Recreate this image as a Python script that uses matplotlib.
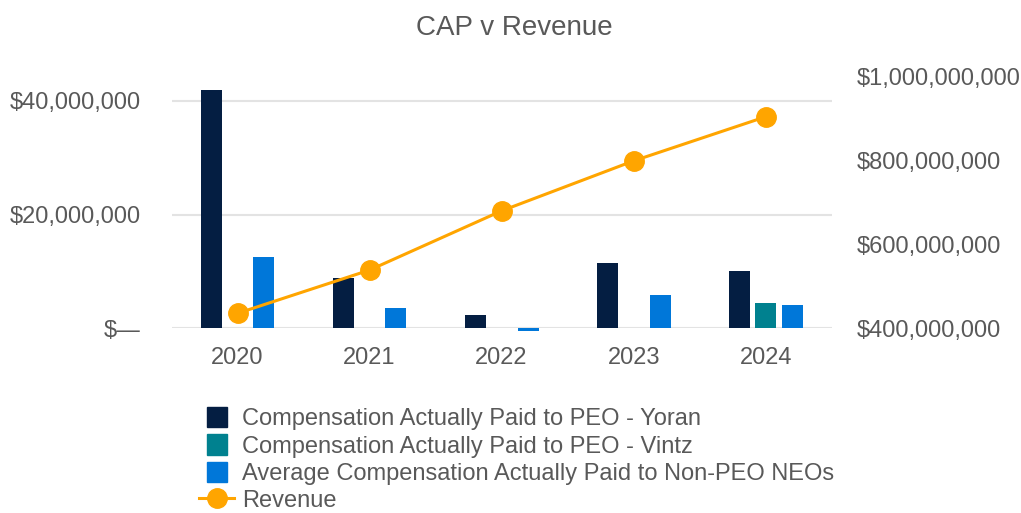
import matplotlib.pyplot as plt
import matplotlib.patches as mpatches
import numpy as np
from matplotlib.legend_handler import HandlerPatch
from matplotlib.lines import Line2D
from matplotlib.ticker import FuncFormatter

plt.rcParams['font.family'] = ['Liberation Sans', 'DejaVu Sans']

years = ['2020', '2021', '2022', '2023', '2024']
cap_yoran = [41.96e6, 8.9e6, 2.36e6, 11.4e6, 10.06e6]
cap_vintz = [0, 0, 0, 0, 4.48e6]
cap_non_peo = [12.5e6, 3.6e6, -0.5e6, 5.8e6, 4.13e6]
revenue = [435e6, 538e6, 679e6, 798e6, 903e6]

labels = ['Compensation Actually Paid to PEO - Yoran',
          'Compensation Actually Paid to PEO - Vintz',
          'Average Compensation Actually Paid to Non-PEO NEOs',
          'Revenue']
colors = ['#041E42', '#00818F', '#0077D9', '#FFA500']
text_color = '#595959'


def money(v, pos):
    if abs(v) < 1:
        return '$—'
    return f'${v:,.0f}'


def square(legend, orig_handle, xdescent, ydescent, width, height, fontsize):
    # square swatch centred in the (wider) handle box
    return mpatches.Rectangle((-xdescent + (width - height) / 2, -ydescent), height, height)


fig = plt.figure(figsize=(10.21, 5.13), dpi=100)
ax = fig.add_axes([0.168, 0.3606, 0.6466, 0.4912])
ax2 = ax.twinx()

x = np.arange(len(years))
w = 0.159
off = 0.2
ax.bar(x - off, cap_yoran, w, color=colors[0], clip_on=False, zorder=2)
ax.bar(x, cap_vintz, w, color=colors[1], clip_on=False, zorder=2)
ax.bar(x + off, cap_non_peo, w, color=colors[2], clip_on=False, zorder=2)
ax2.plot(x, revenue, color=colors[3], lw=2.2, marker='o', ms=14, zorder=3)

ax.set_xlim(-0.5, 4.5)
ax.set_ylim(0, 44.4e6)
ax2.set_ylim(400e6, 1e9)
ax.set_yticks([0, 20e6, 40e6])
ax2.set_yticks([400e6, 600e6, 800e6, 1e9])
ax.yaxis.set_major_formatter(FuncFormatter(money))
ax2.yaxis.set_major_formatter(FuncFormatter(money))
ax.set_xticks(x)
ax.set_xticklabels(years)
ax.grid(axis='y', color='#E3E3E3', lw=1.5, zorder=0)
ax.set_axisbelow(True)
for a in (ax, ax2):
    for s in a.spines.values():
        s.set_visible(False)
    a.tick_params(length=0, labelsize=17, labelcolor=text_color)
ax.tick_params(axis='y', pad=22)
ax.tick_params(axis='x', pad=14)
ax2.tick_params(axis='y', pad=18)

fig.text(0.504, 0.945, 'CAP v Revenue', ha='center', va='center', fontsize=20, color=text_color)

handles = [mpatches.Patch(color=colors[0]), mpatches.Patch(color=colors[1]),
           mpatches.Patch(color=colors[2]),
           Line2D([], [], color=colors[3], lw=2.2, marker='o', ms=14)]
fig.legend(handles, labels, loc='upper left', bbox_to_anchor=(0.195, 0.206), frameon=False,
           fontsize=17, labelcolor=text_color, handlelength=1.48, handleheight=0.93,
           handletextpad=0.34, labelspacing=0.17, borderaxespad=0, borderpad=0,
           handler_map={mpatches.Patch: HandlerPatch(patch_func=square)})

fig.savefig('out.png', dpi=100)
